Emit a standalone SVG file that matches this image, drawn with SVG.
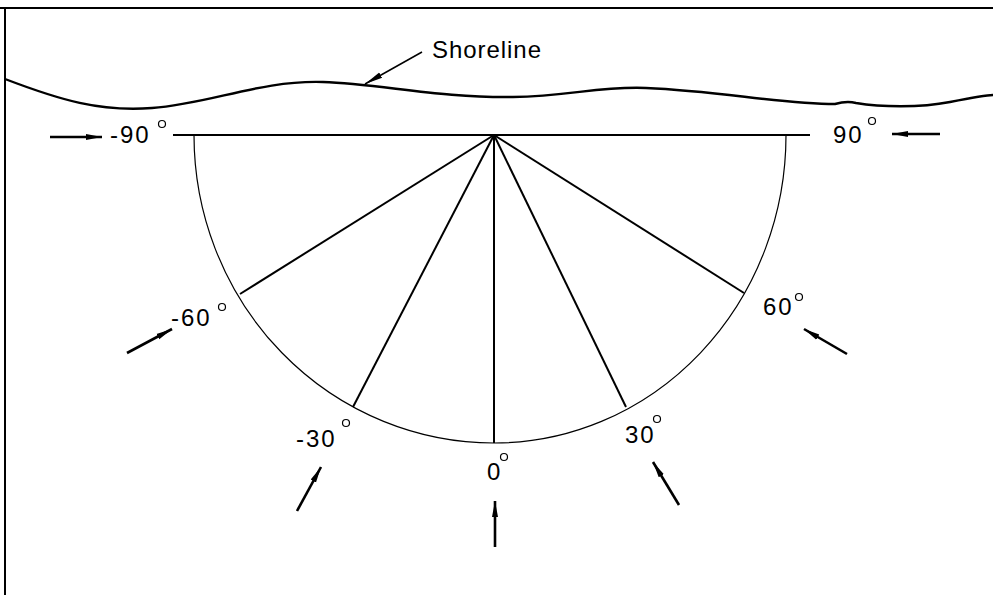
<svg xmlns="http://www.w3.org/2000/svg" width="993" height="595" viewBox="0 0 993 595">
<style>
.lbl{font-family:"Liberation Sans",Arial,sans-serif;font-size:24px;fill:#000;letter-spacing:2px}
.deg{fill:none;stroke:#000;stroke-width:1.2}
.arr{stroke:#000;stroke-width:2.6;fill:none;marker-end:url(#ah)}
.spoke{stroke:#000;stroke-width:2;fill:none}
</style>
<defs>
<marker id="ah" markerUnits="userSpaceOnUse" markerWidth="18" markerHeight="8" refX="16" refY="4" orient="auto">
<path d="M0,1 L16,4 L0,7 Z" fill="#000"/>
</marker>
<marker id="ah2" markerUnits="userSpaceOnUse" markerWidth="20" markerHeight="8" refX="18" refY="4" orient="auto">
<path d="M0,1 L18,4 L0,7 Z" fill="#000"/>
</marker>
</defs>
<rect width="993" height="595" fill="#fff"/>
<g id="frame">
<line x1="0" y1="8" x2="993" y2="8" stroke="#000" stroke-width="2"/>
<line x1="5" y1="8" x2="5" y2="595" stroke="#000" stroke-width="2"/>
</g>
<g id="shoreline">
<path d="M5,79 C60,100 100,112 152,108 C210,104 260,80 323,82 C380,84 440,98 513,97 C570,96 600,86 646,88 C720,91 780,104 835,104 C842,102 848,101 856,103 C880,107 920,108 950,102 C970,98 985,95 993,95" fill="none" stroke="#000" stroke-width="2.4"/>
<line x1="422" y1="52" x2="365" y2="84" stroke="#000" stroke-width="1.5" marker-end="url(#ah2)"/>
<text class="lbl" x="432" y="58" font-size="25" letter-spacing="0" textLength="111" lengthAdjust="spacing">Shoreline</text>
</g>
<g id="protractor">
<line x1="173" y1="135" x2="810" y2="135" stroke="#000" stroke-width="2.2"/>
<path d="M194,135 A300,308 0 0 0 494,443 A292,308 0 0 0 786,135" fill="none" stroke="#000" stroke-width="1.2"/>
</g>
<g id="connectors">
<line class="spoke" x1="494" y1="135" x2="240" y2="294"/>
<line class="spoke" x1="494" y1="135" x2="353" y2="407"/>
<line class="spoke" x1="494" y1="135" x2="494" y2="443"/>
<line class="spoke" x1="494" y1="135" x2="626" y2="407"/>
<line class="spoke" x1="494" y1="135" x2="744" y2="293"/>
<line class="arr" x1="50" y1="137" x2="102" y2="137"/>
<line class="arr" x1="940" y1="134" x2="892" y2="134"/>
<line class="arr" x1="127" y1="353" x2="172" y2="329"/>
<line class="arr" x1="297" y1="511" x2="321" y2="467"/>
<line class="arr" x1="495" y1="547" x2="495" y2="501"/>
<line class="arr" x1="679" y1="505" x2="653" y2="462"/>
<line class="arr" x1="847" y1="354" x2="804" y2="329"/>
</g>
<g id="label-m90">
<text class="lbl" x="110" y="143">-90</text>
<circle class="deg" cx="162" cy="124" r="3.5"/>
</g>
<g id="label-90">
<text class="lbl" x="833" y="143">90</text>
<circle class="deg" cx="872" cy="121" r="3.5"/>
</g>
<g id="label-m60">
<text class="lbl" x="171" y="326">-60</text>
<circle class="deg" cx="222" cy="307" r="3.5"/>
</g>
<g id="label-m30">
<text class="lbl" x="296" y="447">-30</text>
<circle class="deg" cx="346" cy="423" r="3.5"/>
</g>
<g id="label-0">
<text class="lbl" x="487" y="480">0</text>
<circle class="deg" cx="504" cy="457" r="3.5"/>
</g>
<g id="label-30">
<text class="lbl" x="625" y="443">30</text>
<circle class="deg" cx="657" cy="419" r="3.5"/>
</g>
<g id="label-60">
<text class="lbl" x="763" y="315">60</text>
<circle class="deg" cx="799" cy="297" r="3.5"/>
</g>
</svg>
